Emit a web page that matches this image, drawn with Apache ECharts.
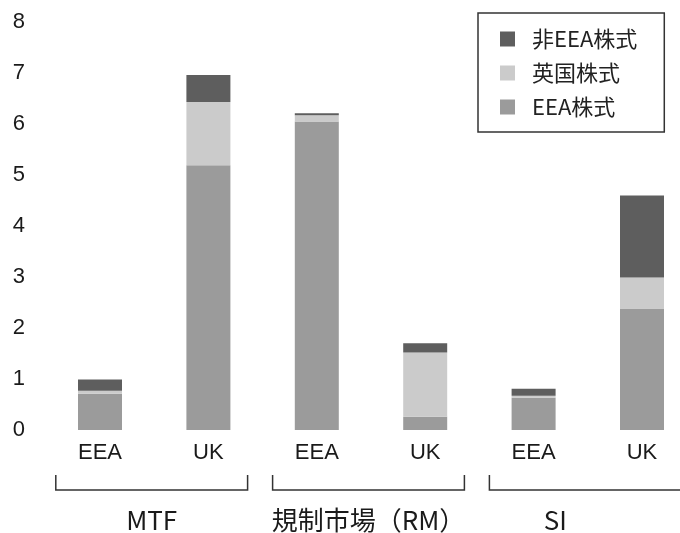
<!DOCTYPE html>
<html><head><meta charset="utf-8">
<script src="https://cdn.jsdelivr.net/npm/echarts@6/dist/echarts.min.js"></script>
<style>html,body{margin:0;padding:0;background:#fff}#c{width:680px;height:533px}</style>
</head><body><div id="c"></div>
<script>
const categories = ['EEA','UK','EEA','UK','EEA','UK'];
const groups = ['MTF','規制市場（RM）','SI'];
const groupRanges = [[0,1],[2,3],[4,5]];
const eeaStock = [0.71, 5.19, 6.05, 0.26, 0.63, 2.38];
const ukStock = [0.06, 1.24, 0.12, 1.26, 0.04, 0.61];
const nonEeaStock = [0.22, 0.53, 0.04, 0.18, 0.14, 1.61];
const yTicks = [0,1,2,3,4,5,6,7,8];

const FONT = '"Noto Sans CJK JP","Noto Sans",sans-serif';
const chart = echarts.init(document.getElementById('c'));
const groupLabelShift = [0, 0, -30];
chart.setOption({
  animation:false,
  grid:{left:100, top:22, right:38, height:408},
  legend:{
    orient:'vertical', left:478, top:13,
    data:['非EEA株式','英国株式','EEA株式'],
    icon:'rect', itemWidth:15, itemHeight:15, itemGap:12,
    padding:[15,27,14,22],
    borderColor:'#333', borderWidth:1.5,
    textStyle:{fontFamily:FONT, fontSize:22, color:'#222', padding:[0,0,0,12]}
  },
  xAxis:{
    type:'category', data:categories, boundaryGap:false,
    axisLine:{show:false}, axisTick:{show:false}, splitLine:{show:false},
    axisLabel:{fontFamily:'"Liberation Sans",Arial,sans-serif', fontSize:22, color:'#1a1a1a', margin:12}
  },
  yAxis:{
    type:'value', min:0, max:8, interval:1,
    splitLine:{show:false}, axisLine:{show:false}, axisTick:{show:false},
    axisLabel:{fontFamily:'"Liberation Sans",Arial,sans-serif', fontSize:22, color:'#1a1a1a', margin:75,
      formatter:v=>String(yTicks[v]!==undefined?yTicks[v]:v)}
  },
  series:[
    {name:'EEA株式', type:'bar', stack:'a', barWidth:44, clip:false, data:eeaStock, itemStyle:{color:'#9b9b9b'}},
    {name:'英国株式', type:'bar', stack:'a', barWidth:44, clip:false, data:ukStock, itemStyle:{color:'#cbcbcb'}},
    {name:'非EEA株式', type:'bar', stack:'a', barWidth:44, clip:false, data:nonEeaStock, itemStyle:{color:'#5e5e5e'}},
    {
      type:'custom', clip:false, silent:true,
      data:groupRanges.map(r=>[r[0], r[1], 0]),
      encode:{x:[0,1], y:2},
      renderItem:function(params, api){
        const i0 = api.value(0), i1 = api.value(1);
        const p0 = api.coord([i0, 0]), p1 = api.coord([i1, 0]);
        const bw = api.coord([1,0])[0] - api.coord([0,0])[0];
        const xL = p0[0] - bw/2 + 10, xR = p1[0] + bw/2 - 15;
        const yB = p0[1] + 60, yT = p0[1] + 45;
        const cx = (xL + xR)/2 + groupLabelShift[params.dataIndex];
        return {type:'group', children:[
          {type:'polyline', shape:{points:[[xL,yT],[xL,yB],[xR,yB],[xR,yT]]}, style:{stroke:'#333', lineWidth:1.5, fill:null}},
          {type:'text', x:cx, y:yB+30, style:{text:groups[params.dataIndex], fontFamily:FONT, fontSize:26, fill:'#1a1a1a', align:'center', verticalAlign:'middle'}}
        ]};
      }
    }
  ]
});
</script></body></html>
